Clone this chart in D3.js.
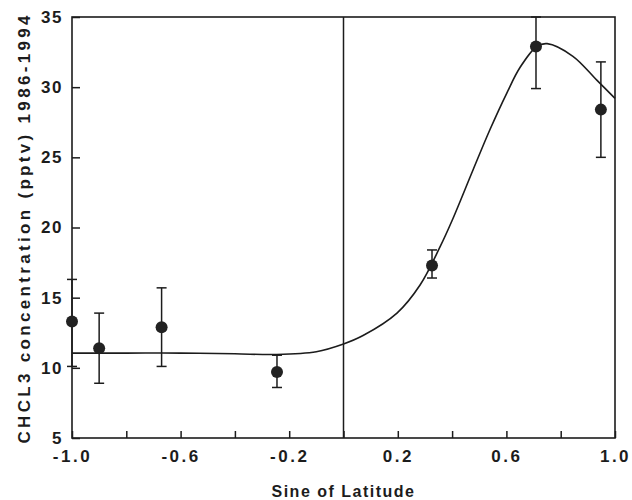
<!DOCTYPE html>
<html lang="en">
<head>
<meta charset="utf-8">
<title>CHCL3 concentration vs sine of latitude</title>
<script src="https://cdn.jsdelivr.net/npm/d3@7"></script>
<style>
  body { margin: 0; background: #fff; }
  svg { display: block; font-family: "Liberation Sans", Arial, sans-serif; }
</style>
</head>
<body>
<div id="chart"></div>
<script>
// Observed points (sine of latitude, concentration, error bar low/high)
const pointX = [-1.0, -0.90, -0.67, -0.245, 0.326, 0.709, 0.948];
const pointY = [13.3, 11.4, 12.9, 9.7, 17.3, 32.9, 28.4];
const errLow = [10.1, 8.9, 10.1, 8.6, 16.4, 29.9, 25.0];
const errHigh = [16.3, 13.9, 15.7, 10.9, 18.4, 35.0, 31.8];

// Fitted curve
const curveX = [-1.0, -0.8, -0.6, -0.4, -0.25, -0.1, 0.0, 0.072, 0.197, 0.282, 0.355, 0.40, 0.477, 0.54, 0.602, 0.65, 0.712, 0.75, 0.845, 0.933, 1.0];
const curveY = [11.05, 11.05, 11.05, 11.0, 10.95, 11.15, 11.7, 12.3, 13.9, 15.9, 18.6, 20.5, 24.1, 27.0, 29.6, 31.4, 32.9, 33.1, 32.2, 30.5, 29.2];

// Tick values
const xTicks = [-1.0, -0.8, -0.6, -0.4, -0.2, 0.0, 0.2, 0.4, 0.6, 0.8, 1.0];
const xLabelled = [-1.0, -0.6, -0.2, 0.2, 0.6, 1.0];
const yTicks = [5, 10, 15, 20, 25, 30, 35];

const width = 632, height = 500;
const margin = { top: 17, right: 17, bottom: 62, left: 72 };
const ink = "#1c1c1c";

const svg = d3.select("#chart").append("svg")
  .attr("width", width)
  .attr("height", height);

const x = d3.scaleLinear().domain([-1, 1]).range([margin.left, width - margin.right]);
const y = d3.scaleLinear().domain([5, 35]).range([height - margin.bottom, margin.top]);

// Axes (ticks point inward)
const yAxis = svg.append("g")
  .attr("transform", `translate(${margin.left},0)`)
  .call(d3.axisLeft(y).tickValues(yTicks).tickSize(-8).tickPadding(9).tickFormat(d => d));

const xAxis = svg.append("g")
  .attr("transform", `translate(0,${height - margin.bottom})`)
  .call(d3.axisBottom(x).tickValues(xTicks).tickSize(-7).tickPadding(12)
    .tickFormat(d => xLabelled.some(v => Math.abs(v - d) < 1e-9) ? d.toFixed(1) : ""));

[yAxis, xAxis].forEach(g => {
  g.select(".domain").remove();
  g.selectAll(".tick line").attr("stroke", ink).attr("stroke-width", 1.5);
  g.selectAll(".tick text")
    .attr("fill", ink)
    .style("font-size", "17px")
    .style("font-weight", "bold")
    .style("letter-spacing", "1.5px");
});
xAxis.selectAll(".tick text").style("letter-spacing", "2.5px");

// Frame and zero line
svg.append("rect")
  .attr("x", x(-1)).attr("y", y(35))
  .attr("width", x(1) - x(-1)).attr("height", y(5) - y(35))
  .attr("fill", "none").attr("stroke", ink).attr("stroke-width", 1.6);

svg.append("line")
  .attr("x1", x(0)).attr("x2", x(0))
  .attr("y1", y(35)).attr("y2", y(5))
  .attr("stroke", ink).attr("stroke-width", 1.5);

// Fitted curve
const curve = d3.range(curveX.length).map(i => [curveX[i], curveY[i]]);
svg.append("path")
  .datum(curve)
  .attr("fill", "none")
  .attr("stroke", ink)
  .attr("stroke-width", 1.6)
  .attr("d", d3.line().curve(d3.curveCatmullRom.alpha(0.5)).x(d => x(d[0])).y(d => y(d[1])));

// Error bars and points
const pts = d3.range(pointX.length).map(i => ({ x: pointX[i], y: pointY[i], lo: errLow[i], hi: errHigh[i] }));
const capW = 5;

const bars = svg.append("g").attr("stroke", ink).attr("stroke-width", 1.5);
bars.selectAll(".stem").data(pts).join("line")
  .attr("x1", d => x(d.x)).attr("x2", d => x(d.x))
  .attr("y1", d => y(d.lo)).attr("y2", d => y(d.hi));
bars.selectAll(".caplo").data(pts).join("line")
  .attr("x1", d => x(d.x) - capW).attr("x2", d => x(d.x) + capW)
  .attr("y1", d => y(d.lo)).attr("y2", d => y(d.lo));
bars.selectAll(".caphi").data(pts).join("line")
  .attr("x1", d => x(d.x) - capW).attr("x2", d => x(d.x) + capW)
  .attr("y1", d => y(d.hi)).attr("y2", d => y(d.hi));

svg.append("g").selectAll("circle").data(pts).join("circle")
  .attr("cx", d => x(d.x))
  .attr("cy", d => y(d.y))
  .attr("r", 6)
  .attr("fill", "#222");

// Axis titles
svg.append("text")
  .attr("x", x(0))
  .attr("y", 497)
  .attr("text-anchor", "middle")
  .attr("fill", ink)
  .style("font-size", "16px")
  .style("font-weight", "bold")
  .style("letter-spacing", "1.5px")
  .text("Sine of Latitude");

svg.append("text")
  .attr("transform", `translate(30,${(y(5) + y(35)) / 2 + 2}) rotate(-90)`)
  .attr("text-anchor", "middle")
  .attr("fill", ink)
  .attr("textLength", 428)
  .attr("lengthAdjust", "spacing")
  .style("font-size", "17px")
  .style("font-weight", "bold")
  .text("CHCL3 concentration (pptv) 1986-1994");
</script>
</body>
</html>
